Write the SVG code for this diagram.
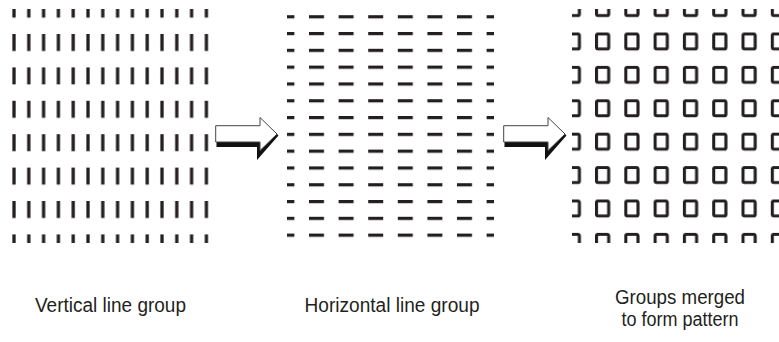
<svg xmlns="http://www.w3.org/2000/svg" width="779" height="342" viewBox="0 0 779 342">
<style>
.lbl{font-family:"Liberation Sans",Arial,sans-serif;font-size:20px;fill:#231f20;text-anchor:middle}
.arrow-body{fill:#fff;stroke:#444;stroke-width:1}
.arrow-shadow{fill:#111}
</style>
<defs>
<pattern id="vpat" patternUnits="userSpaceOnUse" x="10" y="0.6" width="14.8" height="33.4">
<rect x="2.35" y="0" width="3.3" height="17" fill="#231f20"/>
</pattern>
<pattern id="hpat" patternUnits="userSpaceOnUse" x="279.4" y="15.2" width="29.6" height="16.8">
<rect x="0" y="0" width="15" height="3.2" fill="#231f20"/>
</pattern>
<pattern id="mpat" patternUnits="userSpaceOnUse" x="565.7" y="-0.9" width="29.3" height="33.4">
<rect x="1.5" y="1.5" width="12.2" height="15" rx="1.5" fill="none" stroke="#231f20" stroke-width="3.1"/>
</pattern>
<g id="arrowShape">
<polygon class="arrow-shadow" points="216.5,142 260,142 260,150.5 277,134 278.5,135.5 257,160 257,147 216.5,147"/>
<polygon class="arrow-body" points="215.7,125.7 260,125.7 260,117.5 277,134 260,150.5 260,142 215.7,142"/>
</g>
</defs>
<g id="vertical-group">
<rect x="10" y="9" width="206" height="234" fill="url(#vpat)"/>
</g>
<g id="horizontal-group">
<rect x="287" y="10" width="207" height="230" fill="url(#hpat)"/>
</g>
<g id="merged-group">
<rect x="572" y="9" width="207" height="234" fill="url(#mpat)"/>
</g>
<g id="connectors">
<use href="#arrowShape"/>
<use href="#arrowShape" transform="translate(288,0)"/>
</g>
<g id="labels">
<text class="lbl" x="110.5" y="312" textLength="151" lengthAdjust="spacingAndGlyphs">Vertical line group</text>
<text class="lbl" x="392" y="312" textLength="175" lengthAdjust="spacingAndGlyphs">Horizontal line group</text>
<text class="lbl" x="680" y="304" textLength="130" lengthAdjust="spacingAndGlyphs">Groups merged</text>
<text class="lbl" x="680" y="326" textLength="117" lengthAdjust="spacingAndGlyphs">to form pattern</text>
</g>
</svg>
